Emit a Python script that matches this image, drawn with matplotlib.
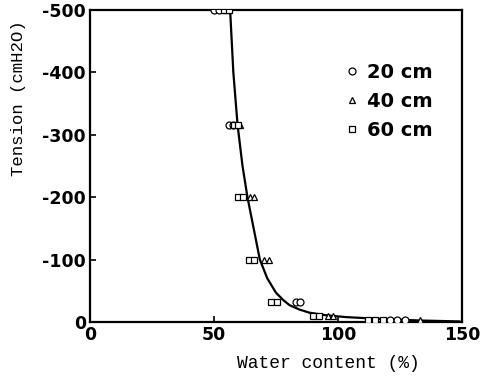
import matplotlib
matplotlib.use("Agg")
import matplotlib.pyplot as plt

plt.rcParams['axes.unicode_minus'] = False

# tension levels (cmH2O) and water content (%)
t_20 = [-500, -500, -316, -316, -31.6, -31.6, -3.2, -3.2, -3.2]
w_20 = [50, 52, 56, 57.5, 83, 84.5, 121, 124, 127]

t_40 = [-500, -316, -200, -200, -100, -100, -10, -10, -2.5]
w_40 = [55, 60.5, 64.5, 66, 70, 72, 96, 98, 133]

t_60 = [-500, -500, -316, -316, -200, -200, -100, -100, -31.6, -31.6,
        -10, -10, -3.2, -3.2, -3.2]
w_60 = [54, 56, 58, 59.5, 59.5, 61.5, 64, 66, 73, 75.5,
        90, 92.5, 112, 115, 118]

# fitted retention curve
curve_w = [56.5, 57.8, 59.5, 61.5, 63.5, 66, 68.5, 71.5, 75, 78, 80.5,
           84.5, 88.5, 95, 103, 117, 133, 149]
curve_t = [-500, -400, -316, -250, -200, -150, -100, -70, -47, -35, -27,
           -20, -15, -11, -8, -5, -2.5, -1]

fig = plt.figure(figsize=(4.95, 3.78), dpi=100)
ax = fig.add_axes([0.182, 0.148, 0.751, 0.826])

ax.plot(curve_w, curve_t, color='black', lw=1.6, zorder=2)

mk = dict(mfc='white', mec='black', mew=0.9, ls='none', ms=5, zorder=3)
ax.plot(w_20, t_20, marker='o', label='20 cm', **mk)
ax.plot(w_40, t_40, marker='^', label='40 cm', **mk)
ax.plot(w_60, t_60, marker='s', label='60 cm', **mk)

ax.set_xlim(0, 150)
ax.set_ylim(0, -500)
ax.set_xticks([0, 50, 100, 150])
ax.set_yticks([0, -100, -200, -300, -400, -500])
ax.tick_params(direction='in', length=4, width=1.2, labelsize=12.5, pad=3)
for lab in ax.get_xticklabels() + ax.get_yticklabels():
    lab.set_fontweight('bold')
for s in ax.spines.values():
    s.set_linewidth(1.6)

ax.set_xlabel('Water content (%)', family='Liberation Mono', fontsize=13)
ax.set_ylabel('Tension (cmH2O)', family='Liberation Mono', fontsize=12.5)
ax.xaxis.set_label_coords(0.64, -0.105)
ax.yaxis.set_label_coords(-0.172, 0.718)

leg = ax.legend(loc='upper left', bbox_to_anchor=(0.64, 0.885), frameon=False,
                prop={'size': 14, 'weight': 'bold'}, handlelength=0.7,
                handletextpad=0.4, labelspacing=0.5, markerscale=1.0)

fig.savefig('out.png', dpi=100)
